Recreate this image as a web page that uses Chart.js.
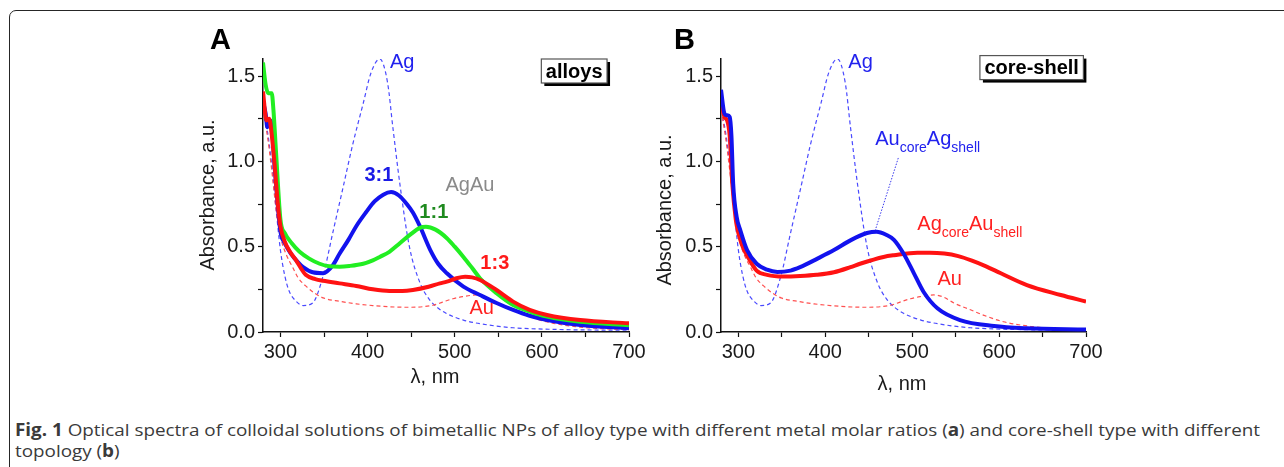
<!DOCTYPE html>
<html>
<head>
<meta charset="utf-8">
<script src="https://cdn.jsdelivr.net/npm/chart.js@4.4.0/dist/chart.umd.min.js"></script>
<style>
  body { margin: 0; background: #fff; width: 1284px; height: 467px; overflow: hidden; position: relative; }
  #frame { position: absolute; left: 9px; top: 10px; width: 1300px; height: 470px; border: 1.5px solid #262626; border-radius: 7px; box-sizing: border-box; }
  #cA { position: absolute; left: 190px; top: 20px; }
  #cB { position: absolute; left: 650px; top: 20px; }
  .cap { position: absolute; left: 15px; font-family: "Open Sans", sans-serif; font-size: 17px; line-height: 20px; color: #3a3a3a; white-space: nowrap; transform-origin: 0 0; }
</style>
</head>
<body>
<div id="frame"></div>
<canvas id="cA" width="480" height="380"></canvas>
<canvas id="cB" width="480" height="380"></canvas>
<div class="cap" id="cap1" style="top:420px"><b>Fig. 1</b> Optical spectra of colloidal solutions of bimetallic NPs of alloy type with different metal molar ratios (<b>a</b>) and core-shell type with different</div>
<div class="cap" id="cap2" style="top:441px">topology (<b>b</b>)</div>

<script>
// ---- data (wavelength nm / absorbance a.u.) ----
// reference spectra (dashed), same in both panels
const agRefX = [280, 285, 290, 295, 300, 305, 310, 318, 326, 337, 349, 360, 372, 383, 395, 404, 414, 423, 429, 437, 448, 460, 471, 479, 490, 510, 540, 567, 617, 700];
const agRefY = [1.30, 1.18, 0.98, 0.72, 0.48, 0.33, 0.24, 0.18, 0.155, 0.17, 0.33, 0.58, 0.85, 1.10, 1.34, 1.52, 1.60, 1.46, 1.20, 0.87, 0.50, 0.29, 0.19, 0.148, 0.11, 0.07, 0.04, 0.025, 0.015, 0.01];
const auRefX = [280, 285, 290, 295, 300, 307, 314, 320, 329, 340, 349, 368, 387, 406, 425, 444, 463, 476, 486, 498, 509, 525, 536, 548, 567, 584, 605, 636, 660, 700];
const auRefY = [1.30, 1.15, 0.95, 0.72, 0.56, 0.45, 0.38, 0.32, 0.27, 0.225, 0.20, 0.18, 0.165, 0.155, 0.148, 0.145, 0.148, 0.158, 0.175, 0.195, 0.207, 0.217, 0.205, 0.17, 0.13, 0.095, 0.06, 0.033, 0.022, 0.014];

// panel A: alloys
const a31X = [280, 283, 285, 288, 290, 293, 297, 300, 305, 312, 320, 326, 337, 349, 360, 368, 378, 387, 398, 408, 418, 427, 436, 445, 452, 460, 472, 481, 491, 510, 529, 548, 567, 586, 606, 644, 700];
const a31Y = [1.35, 1.28, 1.20, 1.24, 1.22, 0.99, 0.74, 0.59, 0.52, 0.46, 0.41, 0.38, 0.35, 0.345, 0.39, 0.46, 0.54, 0.62, 0.70, 0.765, 0.805, 0.82, 0.80, 0.75, 0.70, 0.62, 0.48, 0.40, 0.344, 0.266, 0.217, 0.17, 0.129, 0.095, 0.07, 0.041, 0.022];
const a11X = [280, 283, 286, 290, 292, 295, 300, 305, 313, 322, 333, 345, 356, 368, 379, 395, 406, 414, 425, 437, 450, 460, 467, 478, 491, 500, 510, 520, 529, 548, 567, 586, 606, 644, 700];
const a11Y = [1.58, 1.45, 1.40, 1.40, 1.30, 1.05, 0.66, 0.58, 0.52, 0.47, 0.43, 0.40, 0.385, 0.383, 0.387, 0.40, 0.42, 0.44, 0.47, 0.52, 0.575, 0.61, 0.617, 0.60, 0.55, 0.50, 0.44, 0.375, 0.315, 0.227, 0.158, 0.12, 0.09, 0.06, 0.04];
const a13X = [280, 284, 287, 289, 293, 297, 300, 305, 311, 318, 324, 329, 340, 349, 368, 387, 406, 425, 440, 452, 470, 483, 491, 502, 512, 520, 529, 548, 567, 586, 606, 644, 700];
const a13Y = [1.41, 1.24, 1.25, 1.20, 1.00, 0.75, 0.62, 0.53, 0.47, 0.42, 0.37, 0.335, 0.31, 0.30, 0.285, 0.27, 0.25, 0.24, 0.24, 0.246, 0.265, 0.285, 0.295, 0.315, 0.324, 0.32, 0.305, 0.246, 0.178, 0.13, 0.10, 0.07, 0.051];

// panel B: core-shell
const bAuAgX = [280, 284, 287, 290, 292, 294, 298, 302, 310, 321, 333, 345, 360, 371, 391, 410, 430, 448, 459, 470, 479, 490, 502, 513, 529, 555, 594, 632, 700];
const bAuAgY = [1.42, 1.28, 1.27, 1.26, 1.15, 0.87, 0.675, 0.60, 0.48, 0.40, 0.365, 0.352, 0.36, 0.38, 0.43, 0.48, 0.54, 0.58, 0.588, 0.57, 0.54, 0.46, 0.344, 0.236, 0.139, 0.07, 0.035, 0.022, 0.015];
const bAgAuX = [280, 284, 287, 290, 293, 297, 300, 305, 311, 321, 333, 352, 371, 390, 410, 429, 440, 467, 479, 506, 520, 537, 553, 568, 585, 602, 632, 671, 700];
const bAgAuY = [1.36, 1.26, 1.24, 1.15, 0.87, 0.66, 0.58, 0.50, 0.44, 0.36, 0.335, 0.325, 0.328, 0.335, 0.35, 0.38, 0.40, 0.44, 0.45, 0.465, 0.465, 0.46, 0.445, 0.42, 0.385, 0.344, 0.275, 0.217, 0.178];

// axes: labelled ticks and all tick marks (minor ones unlabelled)
const xTicks = [300, 400, 500, 600, 700];
const xTickMarks = [300, 350, 400, 450, 500, 550, 600, 650, 700];
const yTicks = [0.0, 0.5, 1.0, 1.5];
const yTickMarks = [0.0, 0.25, 0.5, 0.75, 1.0, 1.25, 1.5];

function pts(xs, ys) { return xs.map((x, i) => ({ x: x, y: ys[i] })); }

function thick(xs, ys, color, order) {
  return { data: pts(xs, ys), borderColor: color, borderWidth: 4, pointRadius: 0, cubicInterpolationMode: 'monotone', order: order };
}
function dashed(xs, ys, color, order) {
  return { data: pts(xs, ys), borderColor: color, borderWidth: 1.2, borderDash: [4, 3], pointRadius: 0, cubicInterpolationMode: 'monotone', order: order };
}

const FONT = '"Liberation Sans", Arial, sans-serif';

// draws letters, axis titles, annotations and the boxed panel name
const decor = {
  id: 'decor',
  afterDatasetsDraw(chart, args, o) {
    const ctx = chart.ctx, xs = chart.scales.x, ys = chart.scales.y;
    ctx.save();
    ctx.textBaseline = 'middle';
    ctx.textAlign = 'left';
    ctx.fillStyle = '#000';
    ctx.font = 'bold 29px ' + FONT;
    ctx.fillText(o.letter, o.letterPos[0], o.letterPos[1]);

    ctx.fillStyle = '#1a1a1a';
    ctx.font = '20px ' + FONT;
    ctx.textAlign = 'center';
    ctx.fillText('λ, nm', o.xTitle[0], o.xTitle[1]);
    ctx.save();
    ctx.translate(o.yTitle[0], o.yTitle[1]);
    ctx.rotate(-Math.PI / 2);
    ctx.fillText('Absorbance, a.u.', 0, 0);
    ctx.restore();

    // leader line
    if (o.leader) {
      ctx.strokeStyle = o.leader.color;
      ctx.lineWidth = 1;
      ctx.setLineDash([1.5, 1.5]);
      ctx.beginPath();
      ctx.moveTo(xs.getPixelForValue(o.leader.from[0]), ys.getPixelForValue(o.leader.from[1]));
      ctx.lineTo(xs.getPixelForValue(o.leader.to[0]), ys.getPixelForValue(o.leader.to[1]));
      ctx.stroke();
      ctx.setLineDash([]);
    }

    o.labels.forEach(l => {
      let px = xs.getPixelForValue(l.x), py = ys.getPixelForValue(l.y);
      ctx.fillStyle = l.color;
      if (Array.isArray(l.text)) {
        ctx.textAlign = 'left';
        ctx.textBaseline = 'alphabetic';
        l.text.forEach(p => {
          ctx.font = (p[1] ? '14px ' : '20px ') + FONT;
          ctx.fillText(p[0], px, py + (p[1] ? 7 : 0));
          px += ctx.measureText(p[0]).width;
        });
        ctx.textBaseline = 'middle';
      } else {
        ctx.textAlign = l.align || 'center';
        ctx.font = (l.bold ? 'bold ' : '') + '20px ' + FONT;
        ctx.fillText(l.text, px, py);
      }
    });

    // boxed panel name with drop shadow
    const b = o.box;
    ctx.font = 'bold 20px ' + FONT;
    const w = ctx.measureText(b.text).width + 9, h = 24;
    const rx = xs.getPixelForValue(b.x) - w, ty = ys.getPixelForValue(b.y);
    ctx.fillStyle = '#000';
    ctx.fillRect(rx + 3, ty + 3, w, h);
    ctx.fillStyle = '#fff';
    ctx.fillRect(rx, ty, w, h);
    ctx.strokeStyle = '#555';
    ctx.lineWidth = 1.2;
    ctx.strokeRect(rx, ty, w, h);
    ctx.fillStyle = '#000';
    ctx.textAlign = 'center';
    ctx.textBaseline = 'middle';
    ctx.fillText(b.text, rx + w / 2, ty + h / 2 + 1);
    ctx.restore();
  }
};

function makeChart(id, sets, yWidth, rightPad, deco) {
  const tickFont = { family: FONT, size: 20 };
  return new Chart(document.getElementById(id), {
    type: 'line',
    data: { datasets: sets },
    options: {
      responsive: false,
      animation: false,
      layout: { padding: { top: 39, right: rightPad, left: 0, bottom: 0 } },
      plugins: { legend: { display: false }, tooltip: { enabled: false }, decor: deco },
      scales: {
        x: {
          type: 'linear', min: 280, max: 700,
          border: { color: '#111', width: 1.5 },
          grid: { drawOnChartArea: false, tickLength: 5, tickColor: '#111', tickWidth: 1.2 },
          ticks: {
            autoSkip: false, maxRotation: 0, padding: 3,
            color: '#1a1a1a', font: tickFont,
            callback: v => xTicks.includes(v) ? String(v) : ''
          },
          afterBuildTicks: s => { s.ticks = xTickMarks.map(v => ({ value: v })); },
          afterFit: s => { s.height = 68; s.paddingLeft = 0; s.paddingRight = 0; }
        },
        y: {
          type: 'linear', min: 0, max: 1.6,
          border: { color: '#111', width: 1.5 },
          grid: { drawOnChartArea: false, tickLength: 5, tickColor: '#111', tickWidth: 1.2 },
          ticks: {
            autoSkip: false, padding: 3,
            color: '#1a1a1a', font: tickFont,
            callback: v => yTicks.includes(v) ? v.toFixed(1) : ''
          },
          afterBuildTicks: s => { s.ticks = yTickMarks.map(v => ({ value: v })); },
          afterFit: s => { s.width = yWidth; s.paddingTop = 0; s.paddingBottom = 0; }
        }
      }
    },
    plugins: [decor]
  });
}

const BLUE = '#1212ee', GREEN = '#22ee22', RED = '#ff1212';
const DBLUE = '#4a4aff', DRED = '#ff5050';

makeChart('cA', [
  thick(a13X, a13Y, RED, 0),
  thick(a11X, a11Y, GREEN, 1),
  thick(a31X, a31Y, BLUE, 2),
  dashed(auRefX, auRefY, DRED, 3),
  dashed(agRefX, agRefY, DBLUE, 4)
], 73, 41, {
  letter: 'A', letterPos: [20, 21],
  xTitle: [245, 357], yTitle: [18, 175],
  labels: [
    { text: 'Ag', x: 425.7, y: 1.58, color: '#2222ee', align: 'left' },
    { text: '3:1', x: 413, y: 0.92, color: '#1a1ae6', bold: true },
    { text: 'AgAu', x: 517.5, y: 0.86, color: '#8a8a8a' },
    { text: '1:1', x: 476, y: 0.70, color: '#1f8a1f', bold: true },
    { text: '1:3', x: 546, y: 0.40, color: '#ff1a1a', bold: true },
    { text: 'Au', x: 531, y: 0.14, color: '#ff2020' }
  ],
  box: { text: 'alloys', x: 674.8, y: 1.6 }
});

makeChart('cB', [
  thick(bAuAgX, bAuAgY, BLUE, 0),
  thick(bAgAuX, bAgAuY, RED, 1),
  dashed(auRefX, auRefY, DRED, 2),
  dashed(agRefX, agRefY, DBLUE, 3)
], 71, 44, {
  letter: 'B', letterPos: [24, 21],
  xTitle: [252, 364], yTitle: [15, 190],
  leader: { from: [484, 1.02], to: [457.6, 0.598], color: '#3a3aee' },
  labels: [
    { text: 'Ag', x: 426.5, y: 1.58, color: '#2222ee', align: 'left' },
    { text: [['Au', 0], ['core', 1], ['Ag', 0], ['shell', 1]], x: 457.4, y: 1.096, color: '#2222ee' },
    { text: [['Ag', 0], ['core', 1], ['Au', 0], ['shell', 1]], x: 505.9, y: 0.60, color: '#ff2020' },
    { text: 'Au', x: 529, y: 0.305, color: '#ff2020', align: 'left' }
  ],
  box: { text: 'core-shell', x: 697, y: 1.62 }
});

// squeeze the caption to the width it has in the figure
function fitCaption() {
  const c1 = document.getElementById('cap1'), c2 = document.getElementById('cap2');
  const k = 1245 / c1.getBoundingClientRect().width;
  c1.style.transform = 'scaleX(' + k + ')';
  c2.style.transform = 'scaleX(' + k + ')';
}
fitCaption();
</script>
</body>
</html>
